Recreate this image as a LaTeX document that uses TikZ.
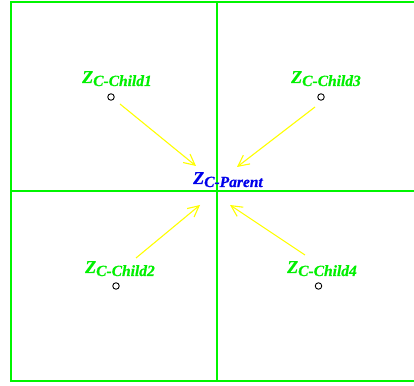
\documentclass[tikz,border=0pt]{standalone}
\usepackage{fontspec}
\setmainfont{Liberation Serif}
\newfontfamily\labfont{Liberation Serif Bold Italic}[FakeBold=0.6]
\usetikzlibrary{arrows.meta}
\definecolor{lgreen}{RGB}{0,245,0}
\definecolor{tgreen}{RGB}{0,240,0}
\definecolor{tblue}{RGB}{0,0,235}
\definecolor{ayellow}{RGB}{255,255,0}
\newcommand{\zlab}[1]{{\labfont\fontsize{18}{18}\selectfont Z\raisebox{-3pt}{\fontsize{15.5}{15.5}\selectfont #1}}}
\tikzset{
  frame/.style={draw=lgreen, line width=2pt},
  lab/.style={inner sep=0pt, anchor=base west},
  pt/.style={circle, draw=black, line width=0.9pt, minimum size=6.5pt, inner sep=0pt},
  arr/.style={draw=ayellow, line width=1.1pt, -{Straight Barb[length=11pt,width=11pt,line width=1.1pt]}}
}
\begin{document}
\begin{tikzpicture}[x=1pt,y=1pt]
\useasboundingbox (0,0) rectangle (414,385);
\fill[white] (0,0) rectangle (414,385);
\begin{scope}
\clip (0,0) rectangle (414,385);
\draw[frame] (10.5,4.5) rectangle (425,382.5);
\draw[frame] (216.5,4.5) -- (216.5,382.5);
\draw[frame] (10.5,193.5) -- (425,193.5);
\end{scope}
% labels
\node[lab, text=tgreen] (l1) at (82,302) {\zlab{C-Child1}};
\node[lab, text=tgreen] (l3) at (291,302) {\zlab{C-Child3}};
\node[lab, text=tgreen] (l2) at (85,112) {\zlab{C-Child2}};
\node[lab, text=tgreen] (l4) at (287,112) {\zlab{C-Child4}};
\node[lab, text=tblue] (lp) at (193,201) {\zlab{C-Parent}};
% points
\node[pt] (c1) at (111,288) {};
\node[pt] (c3) at (321,288) {};
\node[pt] (c2) at (116,99) {};
\node[pt] (c4) at (318.5,99) {};
% arrow ends
\coordinate (s1) at (120,281);
\coordinate (e1) at (196,219);
\coordinate (s3) at (315,278);
\coordinate (e3) at (237,218);
\coordinate (s2) at (136,127);
\coordinate (e2) at (200,180);
\coordinate (s4) at (305,130);
\coordinate (e4) at (230,180);
\draw[arr] (s1) -- (e1);
\draw[arr] (s3) -- (e3);
\draw[arr] (s2) -- (e2);
\draw[arr] (s4) -- (e4);
\end{tikzpicture}
\end{document}
